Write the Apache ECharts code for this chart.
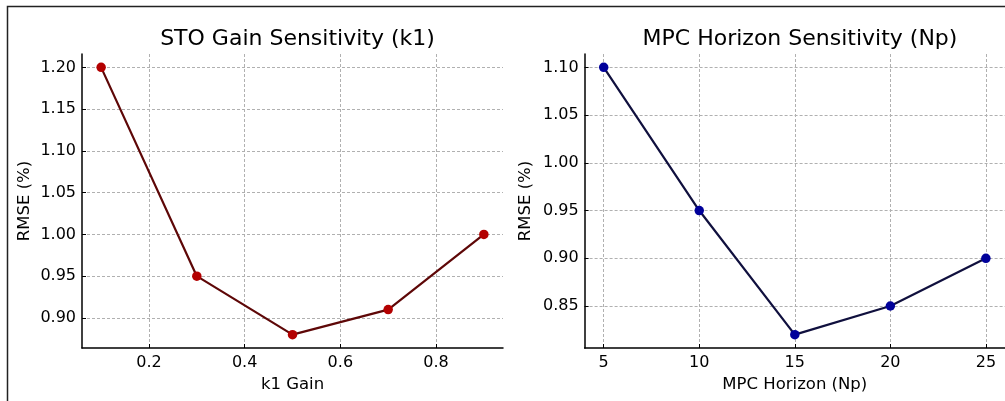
<!DOCTYPE html>
<html>
<head>
<meta charset="utf-8">
<script src="https://cdn.jsdelivr.net/npm/echarts@6/dist/echarts.min.js"></script>
<style>
html,body{margin:0;padding:0;background:#fff;}
#chart{width:1005px;height:401px;}
</style>
</head>
<body>
<div id="chart"></div>
<script>
// ---- data ----
const k1Values = [0.1, 0.3, 0.5, 0.7, 0.9];
const k1Rmse = [1.20, 0.95, 0.88, 0.91, 1.00];
const npValues = [5, 10, 15, 20, 25];
const npRmse = [1.10, 0.95, 0.82, 0.85, 0.90];

const k1XTicks = [0.2, 0.4, 0.6, 0.8];
const k1YTicks = [0.90, 0.95, 1.00, 1.05, 1.10, 1.15, 1.20];
const npXTicks = [5, 10, 15, 20, 25];
const npYTicks = [0.85, 0.90, 0.95, 1.00, 1.05, 1.10];

const titles = ['STO Gain Sensitivity (k1)', 'MPC Horizon Sensitivity (Np)'];
const xNames = ['k1 Gain', 'MPC Horizon (Np)'];
const yName = 'RMSE (%)';

// ---- helpers ----
function padded(arr) {
  const lo = Math.min(...arr), hi = Math.max(...arr), m = (hi - lo) * 0.05;
  return [lo - m, hi + m];
}
const FONT = 'DejaVu Sans';
const gridLine = { show: true, lineStyle: { color: '#b0b0b0', type: [3, 2], width: 1 } };

function xAxis(idx, vals, ticks, name, dec) {
  const [mn, mx] = padded(vals);
  return {
    type: 'value', gridIndex: idx, min: mn, max: mx,
    name: name, nameLocation: 'middle', nameGap: 27,
    nameTextStyle: { fontFamily: FONT, fontSize: 16.5, color: '#000' },
    axisLine: { show: true, onZero: false, lineStyle: { color: '#000', width: 1.5 } },
    axisTick: { show: true, inside: true, length: 4, customValues: ticks, lineStyle: { color: '#000' } },
    axisLabel: { customValues: ticks, margin: 7, fontFamily: FONT, fontSize: 16, color: '#000',
      formatter: v => Number(v).toFixed(dec) },
    splitLine: gridLine
  };
}
function yAxis(idx, vals, ticks, gap) {
  const [mn, mx] = padded(vals);
  return {
    type: 'value', gridIndex: idx, min: mn, max: mx,
    name: yName, nameLocation: 'middle', nameGap: gap,
    nameTextStyle: { fontFamily: FONT, fontSize: 16.5, color: '#000' },
    axisLine: { show: true, onZero: false, lineStyle: { color: '#000', width: 1.5 } },
    axisTick: { show: true, inside: true, length: 4, customValues: ticks, lineStyle: { color: '#000' } },
    axisLabel: { customValues: ticks, margin: 6, fontFamily: FONT, fontSize: 16, color: '#000',
      formatter: v => Number(v).toFixed(2) },
    splitLine: gridLine
  };
}

const chart = echarts.init(document.getElementById('chart'), null, { renderer: 'canvas' });
chart.setOption({
  backgroundColor: '#fff',
  animation: false,
  title: [
    { text: titles[0], left: 292.5, top: 23, textAlign: 'center',
      textStyle: { fontFamily: FONT, fontSize: 22, fontWeight: 'normal', color: '#000' } },
    { text: titles[1], left: 795, top: 23, textAlign: 'center',
      textStyle: { fontFamily: FONT, fontSize: 22, fontWeight: 'normal', color: '#000' } }
  ],
  grid: [
    { left: 82, right: 502, top: 54, bottom: 53 },
    { left: 584.6, right: 0, top: 54, bottom: 53 }
  ],
  xAxis: [
    xAxis(0, k1Values, k1XTicks, xNames[0], 1),
    xAxis(1, npValues, npXTicks, xNames[1], 0)
  ],
  yAxis: [
    yAxis(0, k1Rmse, k1YTicks, 49),
    yAxis(1, npRmse, npYTicks, 50)
  ],
  graphic: [
    { type: 'rect', shape: { x: 7.5, y: 6.5, width: 1200, height: 600 },
      style: { fill: 'none', stroke: '#222', lineWidth: 1.5 }, silent: true, z: 100 }
  ],
  series: [
    { type: 'line', xAxisIndex: 0, yAxisIndex: 0,
      data: k1Values.map((x, i) => [x, k1Rmse[i]]),
      symbol: 'circle', symbolSize: 9.5, showSymbol: true,
      lineStyle: { color: '#5e0707', width: 2.2 },
      itemStyle: { color: '#b30000' } },
    { type: 'line', xAxisIndex: 1, yAxisIndex: 1,
      data: npValues.map((x, i) => [x, npRmse[i]]),
      symbol: 'circle', symbolSize: 9.5, showSymbol: true,
      lineStyle: { color: '#10103e', width: 2.2 },
      itemStyle: { color: '#00009a' } }
  ]
});
</script>
</body>
</html>
